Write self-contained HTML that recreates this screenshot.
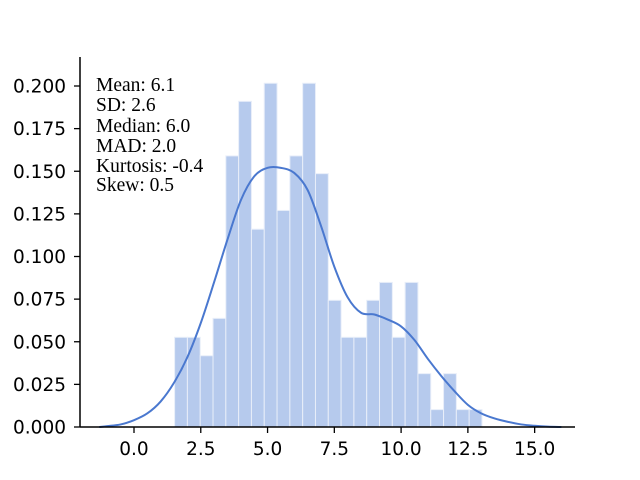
<!DOCTYPE html>
<html><head><meta charset="utf-8"><style>
body{margin:0;background:#fff}
svg{display:block}
.tick{font-family:"DejaVu Sans",sans-serif;font-size:18.5px;fill:#000}
.stat{font-family:"Liberation Serif",serif;font-size:19.5px;fill:#000}
</style></head><body>
<svg id="chart" width="640" height="480" xmlns="http://www.w3.org/2000/svg">
<g id="bars"></g>
<path id="kde" fill="none" stroke="#4a78cf" stroke-width="2"/>
<line x1="80" y1="57" x2="80" y2="427" stroke="#000" stroke-width="1.5"/>
<line x1="80" y1="427" x2="575" y2="427" stroke="#000" stroke-width="1.5"/>
<g id="xticks"></g>
<g id="yticks"></g>
<g>
<text class="stat" x="96" y="91">Mean: 6.1</text>
<text class="stat" x="96" y="111">SD: 2.6</text>
<text class="stat" x="96" y="132">Median: 6.0</text>
<text class="stat" x="96" y="152">MAD: 2.0</text>
<text class="stat" x="96" y="172">Kurtosis: -0.4</text>
<text class="stat" x="96" y="191">Skew: 0.5</text>
</g>
</svg>
<script>
const binStart = 1.52;
const binWidth = 0.4795;
const binDensity = [0.0526,0.0526,0.0418,0.0637,0.159,0.191,0.116,0.2016,0.127,0.159,0.2016,0.1486,0.0743,0.0526,0.0526,0.0743,0.0848,0.0526,0.0848,0.0313,0.0102,0.0313,0.0102,0.0102];
const kdeX = [-1.3,-1,-0.5,0,0.5,1,1.5,2,2.5,3,3.5,4,4.5,5,5.5,6,6.5,7,7.5,8,8.5,9,9.5,10,10.5,11,11.5,12,12.5,13,13.5,14,14.5,15,15.5,16];
const kdeY = [0,0.0005,0.0015,0.004,0.008,0.015,0.026,0.041,0.061,0.085,0.11,0.133,0.147,0.152,0.152,0.149,0.139,0.118,0.094,0.076,0.067,0.066,0.063,0.059,0.051,0.040,0.030,0.021,0.013,0.008,0.005,0.003,0.0015,0.0007,0.0002,0];
const xTicks = ["0.0","2.5","5.0","7.5","10.0","12.5","15.0"];
const yTicks = ["0.000","0.025","0.050","0.075","0.100","0.125","0.150","0.175","0.200"];
const NS="http://www.w3.org/2000/svg";
const X = v => 134 + v*26.71;
const Y = v => 427 - v*1705;
const bars=document.getElementById('bars');
binDensity.forEach((d,i)=>{
  const r=document.createElementNS(NS,'rect');
  const x0=X(binStart+i*binWidth), x1=X(binStart+(i+1)*binWidth);
  r.setAttribute('x',x0);r.setAttribute('width',x1-x0);
  r.setAttribute('y',Y(d));r.setAttribute('height',427-Y(d));
  r.setAttribute('fill','#b6caed');r.setAttribute('stroke','#e8eef9');r.setAttribute('stroke-width','1');
  
  
  bars.appendChild(r);
});
const pts=kdeX.map((x,i)=>[X(x),Y(kdeY[i])]);
let d='M'+pts[0][0]+','+pts[0][1];
for(let i=0;i<pts.length-1;i++){
  const p0=pts[Math.max(0,i-1)],p1=pts[i],p2=pts[i+1],p3=pts[Math.min(pts.length-1,i+2)];
  d+=` C${p1[0]+(p2[0]-p0[0])/6},${p1[1]+(p2[1]-p0[1])/6} ${p2[0]-(p3[0]-p1[0])/6},${p2[1]-(p3[1]-p1[1])/6} ${p2[0]},${p2[1]}`;
}
document.getElementById('kde').setAttribute('d',d);
const xt=document.getElementById('xticks');
xTicks.forEach(t=>{
  const x=X(parseFloat(t));
  const l=document.createElementNS(NS,'line');
  l.setAttribute('x1',x);l.setAttribute('x2',x);l.setAttribute('y1',427);l.setAttribute('y2',433);
  l.setAttribute('stroke','#000');l.setAttribute('stroke-width','1.3');
  
  
  xt.appendChild(l);
  const s=document.createElementNS(NS,'text');
  s.setAttribute('x',x);s.setAttribute('y',455);s.setAttribute('text-anchor','middle');s.setAttribute('class','tick');
  s.textContent=t;
  
  
  xt.appendChild(s);
});
const yt=document.getElementById('yticks');
yTicks.forEach(t=>{
  const y=Y(parseFloat(t));
  const l=document.createElementNS(NS,'line');
  l.setAttribute('x1',74);l.setAttribute('x2',80);l.setAttribute('y1',y);l.setAttribute('y2',y);
  l.setAttribute('stroke','#000');l.setAttribute('stroke-width','1.3');
  
  
  yt.appendChild(l);
  const s=document.createElementNS(NS,'text');
  s.setAttribute('x',66);s.setAttribute('y',y+6.5);s.setAttribute('text-anchor','end');s.setAttribute('class','tick');
  s.textContent=t;
  
  
  yt.appendChild(s);
});
</script>
</body></html>
